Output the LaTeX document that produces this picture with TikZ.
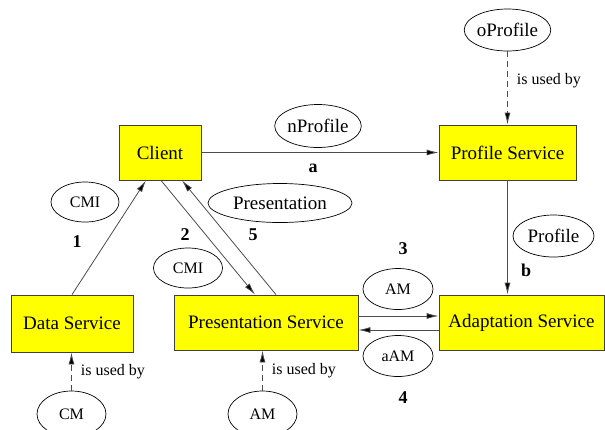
\documentclass[tikz,border=0pt]{standalone}
\usepackage{fontspec}
\setmainfont{Liberation Serif}
\usetikzlibrary{positioning,shapes.geometric,arrows.meta}
\definecolor{svc-yellow}{RGB}{255,255,0}

\tikzset{
  service/.style={draw=black!75, fill=svc-yellow, line width=0.8pt, font=\fontsize{19}{22}\selectfont, inner sep=0pt},
  msg/.style={draw, ellipse, line width=0.7pt, inner sep=0pt},
  bigmsg/.style={msg, font=\fontsize{19}{22}\selectfont},
  smallmsg/.style={msg, font=\fontsize{16}{19}\selectfont},
  flow/.style={draw=black!70, line width=0.8pt, -{Latex[length=12pt,width=6pt,fill=black]}},
  usedby/.style={draw=black!70, line width=0.8pt, dash pattern=on 6pt off 4pt, -{Latex[length=12pt,width=6pt,fill=black]}},
  usedlabel/.style={font=\fontsize{16}{19}\selectfont, right, inner sep=0pt, xshift=9pt},
  stepnum/.style={font=\fontsize{18}{21}\selectfont\bfseries}
}

\begin{document}
\begin{tikzpicture}[x=1pt,y=-1pt]
    \useasboundingbox (0,0) rectangle (605,429);

    % services
    \node[service, minimum width=82pt, minimum height=55pt] (client) at (160,152.5) {Client};
    \node[service, minimum width=137pt, minimum height=55pt] (profile) at (507.5,152.5) {Profile Service};
    \node[service, minimum width=122pt, minimum height=57pt] (data) at (72,323.5) {Data Service};
    \node[service, minimum width=184pt, minimum height=55pt] (present) at (266,322.5) {Presentation Service};
    \node[service, minimum width=165pt, minimum height=55pt] (adapt) at (521.5,322.5) {Adaptation Service};

    % messages
    \node[bigmsg, minimum width=81pt, minimum height=42pt] (oprofile) at (507.5,30) {oProfile};
    \node[bigmsg, minimum width=80pt, minimum height=43pt] (nprofile) at (318,126) {nProfile};
    \node[bigmsg, minimum width=144pt, minimum height=39pt] (presmsg) at (280,203) {Presentation};
    \node[bigmsg, minimum width=81pt, minimum height=42pt] (profmsg) at (553.5,236) {Profile};
    \node[smallmsg, minimum width=68pt, minimum height=40pt] (cmiup) at (85,202) {CMI};
    \node[smallmsg, minimum width=69pt, minimum height=40pt] (cmilow) at (188,268) {CMI};
    \node[smallmsg, minimum width=70pt, minimum height=41pt] (amup) at (398,289) {AM};
    \node[smallmsg, minimum width=70pt, minimum height=41pt] (aam) at (398,356) {aAM};
    \node[smallmsg, minimum width=69pt, minimum height=46pt] (cm) at (71.5,414) {CM};
    \node[smallmsg, minimum width=69pt, minimum height=46pt] (amlow) at (262.5,414) {AM};

    % step numbers
    \node[stepnum] (n1) at (77,242) {1};
    \node[stepnum] (n2) at (185,235) {2};
    \node[stepnum] (n5) at (253,235) {5};
    \node[stepnum] (n3) at (403,249) {3};
    \node[stepnum] (n4) at (403,398) {4};
    \node[stepnum] (na) at (313,168) {a};
    \node[stepnum] (nb) at (526,270) {b};

    % flows
    \draw[flow] (client.east) -- (profile.west);
    \draw[flow] (data.north) -- ([xshift=-14pt]client.south);
    \draw[flow] ([xshift=1pt]client.south) -- ([xshift=-11pt]present.north);
    \draw[flow] ([xshift=10pt]present.north) -- ([xshift=22pt]client.south);
    \draw[flow] (profile.south) -- (profile.south |- adapt.north);
    \draw[flow] ([yshift=6.5pt]present.east) -- ([yshift=6.5pt]adapt.west);
    \draw[flow] ([yshift=-7.5pt]adapt.west) -- ([yshift=-7.5pt]present.east);

    % usage
    \draw[usedby] (oprofile.south) -- (profile.north) node[usedlabel, pos=0.4] {is used by};
    \draw[usedby] (cm.north) -- (cm.north |- data.south) node[usedlabel, midway] {is used by};
    \draw[usedby] (amlow.north) -- (amlow.north |- present.south) node[usedlabel, midway] {is used by};
\end{tikzpicture}
\end{document}
